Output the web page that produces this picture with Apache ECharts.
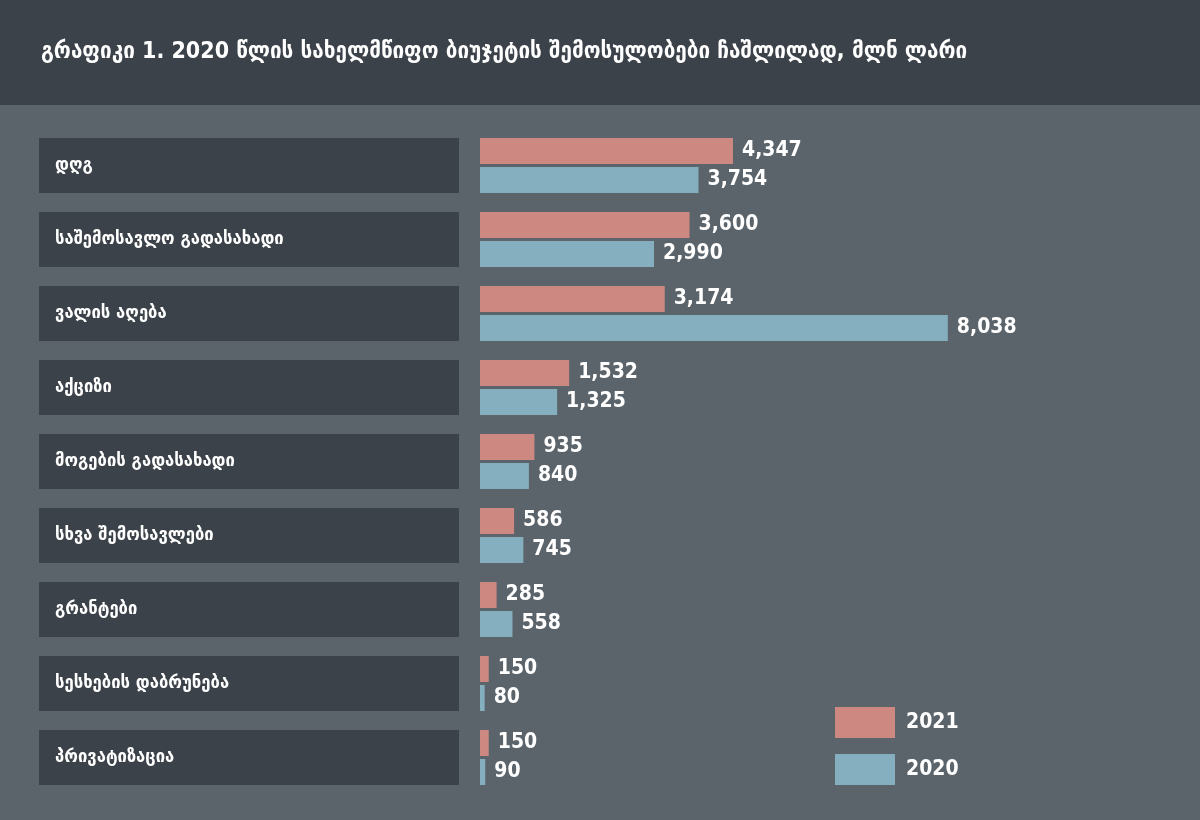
<!DOCTYPE html>
<html>
<head>
<meta charset="utf-8">
<script src="https://cdn.jsdelivr.net/npm/echarts@6/dist/echarts.min.js"></script>
<style>
html,body{margin:0;padding:0;background:#5b646b;}
#c{width:1200px;height:820px;}
</style>
</head>
<body>
<div id="c"></div>
<script>
var titleText = 'გრაფიკი 1. 2020 წლის სახელმწიფო ბიუჯეტის შემოსულობები ჩაშლილად, მლნ ლარი';
var categories = ['დღგ','საშემოსავლო გადასახადი','ვალის აღება','აქციზი','მოგების გადასახადი','სხვა შემოსავლები','გრანტები','სესხების დაბრუნება','პრივატიზაცია'];
var values2021 = [4347,3600,3174,1532,935,586,285,150,150];
var values2020 = [3754,2990,8038,1325,840,745,558,80,90];
var seriesNames = ['2021','2020'];

var chart = echarts.init(document.getElementById('c'));
var numFont = '"DejaVu Sans Condensed","DejaVu Sans",sans-serif';
var geoFont = '"DejaVu Sans Condensed","DejaVu Sans",sans-serif';
function fmt(p){ return Number(p.value).toLocaleString('en-US'); }
chart.setOption({
  backgroundColor:'#5b646b',
  animation:false,
  graphic:[{type:'rect',left:0,top:0,z:-1,shape:{width:1200,height:105},style:{fill:'#3b4249'}}],
  title:{text:titleText,left:36,top:36,textStyle:{color:'#ffffff',fontFamily:geoFont,fontWeight:'bold',fontSize:23}},
  legend:{orient:'vertical',left:830,top:702,itemWidth:60,itemHeight:31,itemGap:16,icon:'rect',
    data:seriesNames,
    textStyle:{color:'#ffffff',fontFamily:numFont,fontWeight:'bold',fontSize:21,padding:[0,0,0,6]}},
  grid:{left:480,top:128.5,height:666,width:582,containLabel:false},
  xAxis:{type:'value',min:0,max:10000,show:false},
  yAxis:{type:'category',data:categories,inverse:true,
    axisLine:{show:false},axisTick:{show:false},
    axisLabel:{margin:21,
      formatter:function(v){return '{a|'+v+'}';},
      rich:{a:{width:404,height:55,lineHeight:55,padding:[0,0,0,16],backgroundColor:'#3b4249',color:'#ffffff',align:'left',fontFamily:geoFont,fontWeight:'bold',fontSize:18.5}}}},
  series:[
    {name:seriesNames[0],type:'bar',data:values2021,barWidth:26,barGap:'11.5%',
     itemStyle:{color:'#cd8981'},
     label:{show:true,position:'right',distance:9,color:'#ffffff',fontFamily:numFont,fontWeight:'bold',fontSize:21,formatter:fmt}},
    {name:seriesNames[1],type:'bar',data:values2020,barWidth:26,barGap:'11.5%',
     itemStyle:{color:'#85afbf'},
     label:{show:true,position:'right',distance:9,color:'#ffffff',fontFamily:numFont,fontWeight:'bold',fontSize:21,formatter:fmt}}
  ]
});
</script>
</body>
</html>
